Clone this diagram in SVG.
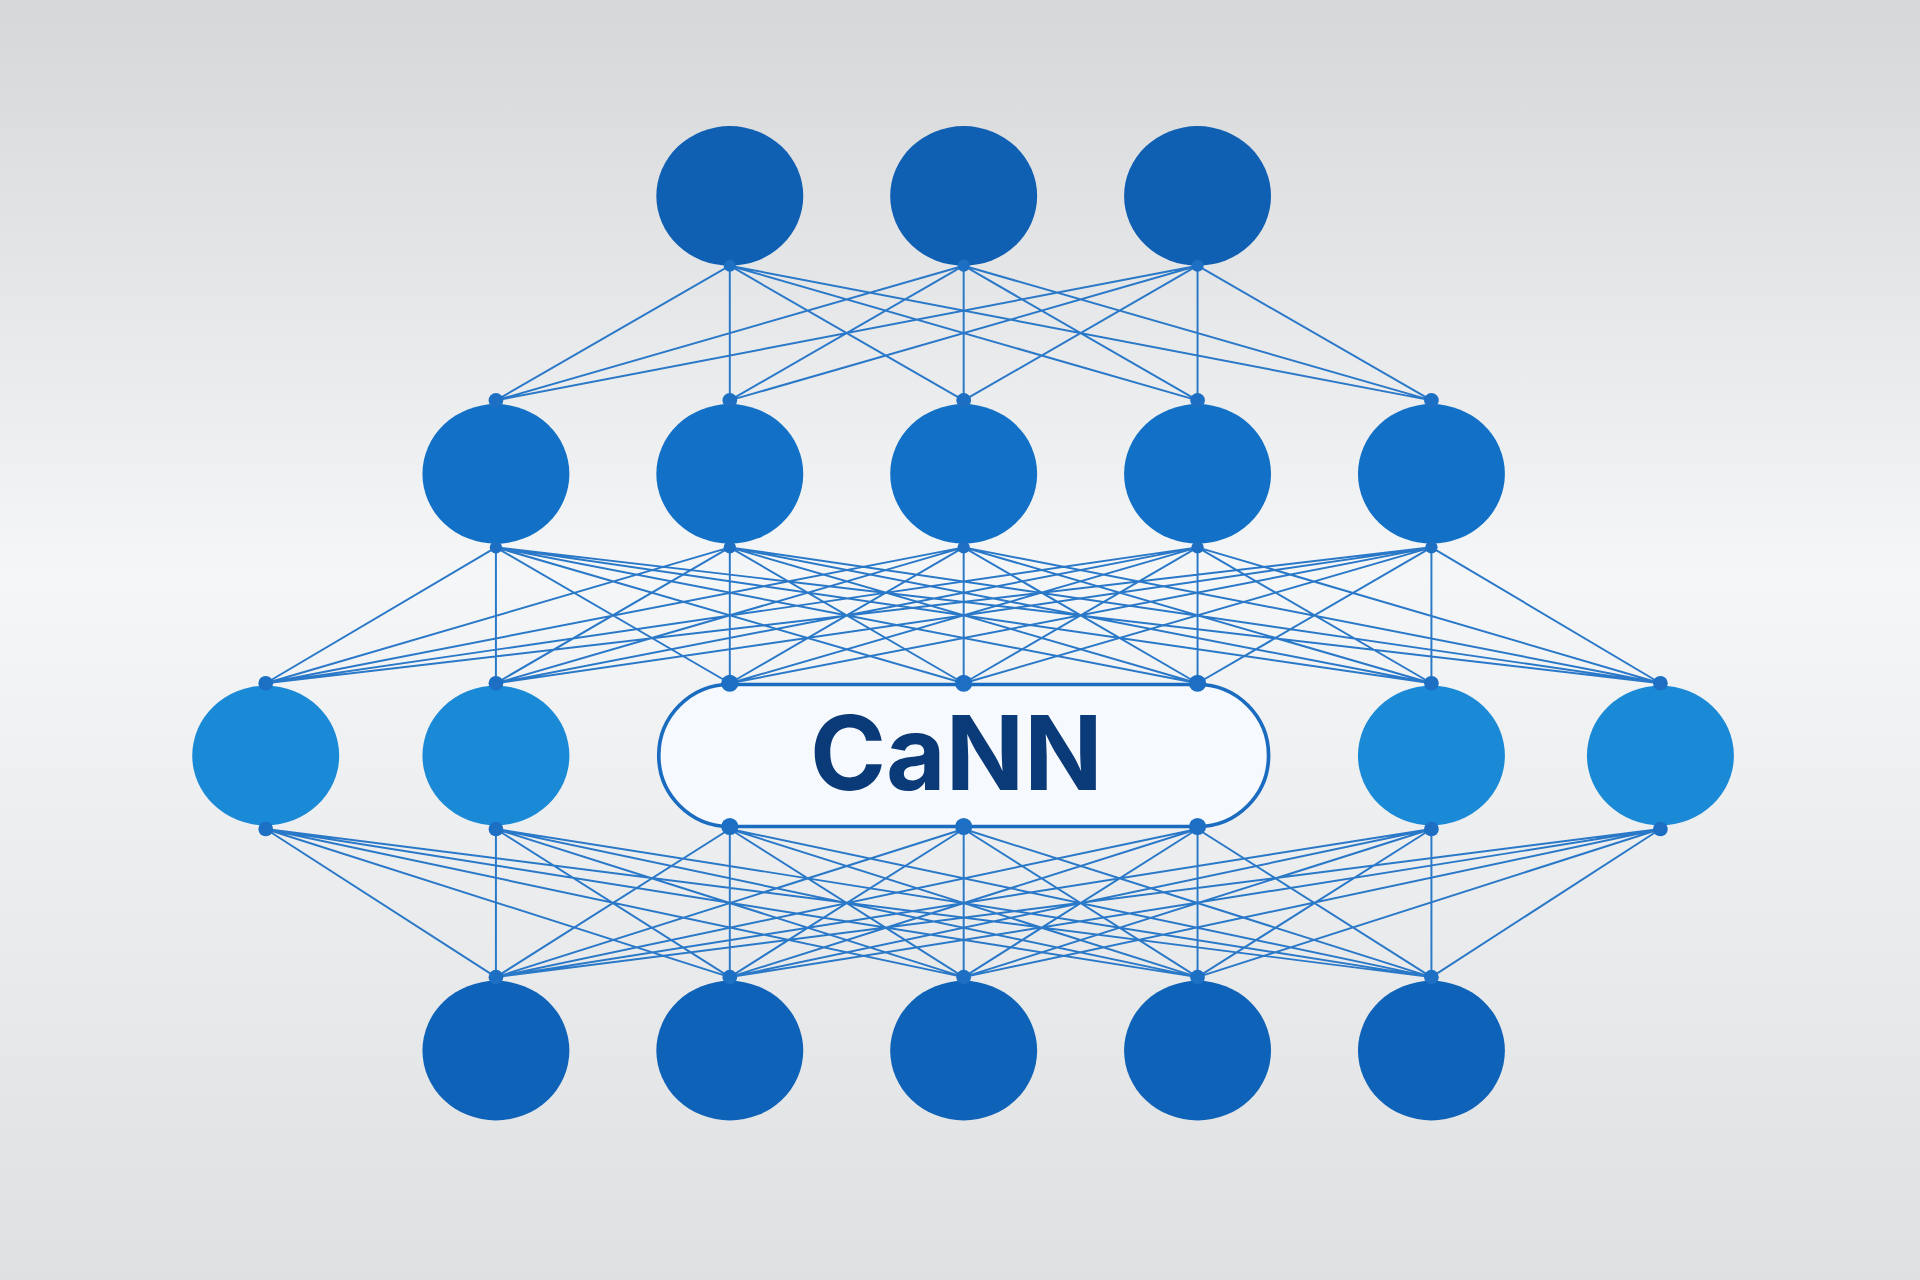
<svg xmlns="http://www.w3.org/2000/svg" width="1920" height="1280" viewBox="0 0 1920 1280">
<defs>
<linearGradient id="bg" x1="0" y1="0" x2="0" y2="1">
<stop offset="0" stop-color="#d6d7d9"/><stop offset="0.45" stop-color="#f5f6f7"/><stop offset="1" stop-color="#dfe0e2"/>
</linearGradient>
<style>
.l{stroke:#2a78c8;stroke-width:1.6;fill:none}
.d{fill:#1c6fc2}
.r1{fill:#0f5fb2}.r2{fill:#1271c6}.r3{fill:#1a8ad7}.r4{fill:#0e63b8}
</style>
</defs>
<rect width="1920" height="1280" fill="url(#bg)"/>
<g transform="scale(1.22449)">
<g id="connectors">
<path class="l" d="M596 217L405 327M596 217L596 327M596 217L787 327M596 217L978 327M596 217L1169 327M787 217L405 327M787 217L596 327M787 217L787 327M787 217L978 327M787 217L1169 327M978 217L405 327M978 217L596 327M978 217L787 327M978 217L978 327M978 217L1169 327"/>
<path class="l" d="M405 447L217 558M405 447L405 558M405 447L596 558M405 447L787 558M405 447L978 558M405 447L1169 558M405 447L1356 558M596 447L217 558M596 447L405 558M596 447L596 558M596 447L787 558M596 447L978 558M596 447L1169 558M596 447L1356 558M787 447L217 558M787 447L405 558M787 447L596 558M787 447L787 558M787 447L978 558M787 447L1169 558M787 447L1356 558M978 447L217 558M978 447L405 558M978 447L596 558M978 447L787 558M978 447L978 558M978 447L1169 558M978 447L1356 558M1169 447L217 558M1169 447L405 558M1169 447L596 558M1169 447L787 558M1169 447L978 558M1169 447L1169 558M1169 447L1356 558"/>
<path class="l" d="M217 677L405 798M217 677L596 798M217 677L787 798M217 677L978 798M217 677L1169 798M405 677L405 798M405 677L596 798M405 677L787 798M405 677L978 798M405 677L1169 798M596 677L405 798M596 677L596 798M596 677L787 798M596 677L978 798M596 677L1169 798M787 677L405 798M787 677L596 798M787 677L787 798M787 677L978 798M787 677L1169 798M978 677L405 798M978 677L596 798M978 677L787 798M978 677L978 798M978 677L1169 798M1169 677L405 798M1169 677L596 798M1169 677L787 798M1169 677L978 798M1169 677L1169 798M1356 677L405 798M1356 677L596 798M1356 677L787 798M1356 677L978 798M1356 677L1169 798"/>
</g>
<g id="row1"><ellipse class="r1" cx="596" cy="160" rx="60" ry="57"/><ellipse class="r1" cx="787" cy="160" rx="60" ry="57"/><ellipse class="r1" cx="978" cy="160" rx="60" ry="57"/></g>
<g id="row2"><ellipse class="r2" cx="405" cy="387" rx="60" ry="57"/><ellipse class="r2" cx="596" cy="387" rx="60" ry="57"/><ellipse class="r2" cx="787" cy="387" rx="60" ry="57"/><ellipse class="r2" cx="978" cy="387" rx="60" ry="57"/><ellipse class="r2" cx="1169" cy="387" rx="60" ry="57"/></g>
<g id="row3"><ellipse class="r3" cx="217" cy="617" rx="60" ry="57"/><ellipse class="r3" cx="405" cy="617" rx="60" ry="57"/><ellipse class="r3" cx="1169" cy="617" rx="60" ry="57"/><ellipse class="r3" cx="1356" cy="617" rx="60" ry="57"/></g>
<g id="cann"><rect x="538" y="559" width="498" height="116" rx="58" fill="#f6f9fd" stroke="#1a6cc0" stroke-width="3"/>
<text x="781" y="645" text-anchor="middle" font-family="Inter, 'Open Sans', 'Liberation Sans', sans-serif" font-weight="bold" font-size="84" fill="#0b3a78">CaNN</text></g>
<g id="row4"><ellipse class="r4" cx="405" cy="858" rx="60" ry="57"/><ellipse class="r4" cx="596" cy="858" rx="60" ry="57"/><ellipse class="r4" cx="787" cy="858" rx="60" ry="57"/><ellipse class="r4" cx="978" cy="858" rx="60" ry="57"/><ellipse class="r4" cx="1169" cy="858" rx="60" ry="57"/></g>
<g id="dots">
<circle class="d" cx="596" cy="217" r="5"/><circle class="d" cx="787" cy="217" r="5"/><circle class="d" cx="978" cy="217" r="5"/>
<circle class="d" cx="405" cy="327" r="6"/><circle class="d" cx="596" cy="327" r="6"/><circle class="d" cx="787" cy="327" r="6"/><circle class="d" cx="978" cy="327" r="6"/><circle class="d" cx="1169" cy="327" r="6"/>
<circle class="d" cx="405" cy="447" r="5"/><circle class="d" cx="596" cy="447" r="5"/><circle class="d" cx="787" cy="447" r="5"/><circle class="d" cx="978" cy="447" r="5"/><circle class="d" cx="1169" cy="447" r="5"/>
<circle class="d" cx="217" cy="558" r="6"/><circle class="d" cx="405" cy="558" r="6"/><circle class="d" cx="596" cy="558" r="7"/><circle class="d" cx="787" cy="558" r="7"/><circle class="d" cx="978" cy="558" r="7"/><circle class="d" cx="1169" cy="558" r="6"/><circle class="d" cx="1356" cy="558" r="6"/>
<circle class="d" cx="217" cy="677" r="6"/><circle class="d" cx="405" cy="677" r="6"/><circle class="d" cx="596" cy="675" r="7"/><circle class="d" cx="787" cy="675" r="7"/><circle class="d" cx="978" cy="675" r="7"/><circle class="d" cx="1169" cy="677" r="6"/><circle class="d" cx="1356" cy="677" r="6"/>
<circle class="d" cx="405" cy="798" r="6"/><circle class="d" cx="596" cy="798" r="6"/><circle class="d" cx="787" cy="798" r="6"/><circle class="d" cx="978" cy="798" r="6"/><circle class="d" cx="1169" cy="798" r="6"/>
</g>
</g>
</svg>
